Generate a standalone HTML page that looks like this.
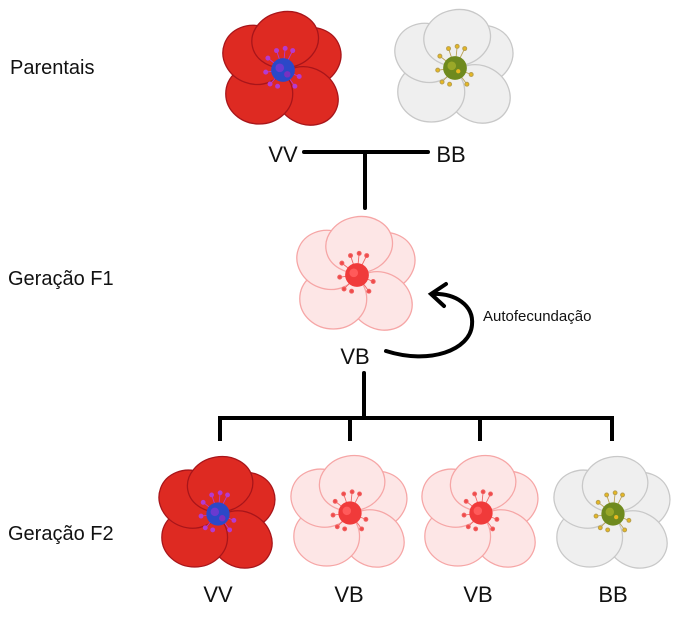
<!DOCTYPE html>
<html><head><meta charset="utf-8"><style>
html,body{margin:0;padding:0;background:#fff}
svg{display:block}
text{font-family:"Liberation Sans",sans-serif;fill:#111}
</style></head><body>
<svg width="685" height="617" viewBox="0 0 685 617" xmlns="http://www.w3.org/2000/svg">
<defs>
<g id="petals">
<ellipse cx="24" cy="-12" rx="30" ry="27" transform="rotate(-20 24 -12)"/>
<ellipse cx="22" cy="24" rx="30" ry="26" transform="rotate(30 22 24)"/>
<ellipse cx="-22" cy="22" rx="31" ry="28"/>
<ellipse cx="-26" cy="-14" rx="30" ry="27" transform="rotate(20 -26 -14)"/>
<ellipse cx="2" cy="-28" rx="31" ry="26" transform="rotate(-10 2 -28)"/>
</g>
<g id="stam">
<g stroke-width="0.8">
<line x1="0" y1="0" x2="-6" y2="-18"/><line x1="0" y1="0" x2="2" y2="-20"/><line x1="0" y1="0" x2="9" y2="-18"/><line x1="0" y1="0" x2="-14" y2="-11"/><line x1="0" y1="0" x2="-16" y2="2"/><line x1="0" y1="0" x2="-12" y2="13"/><line x1="0" y1="0" x2="15" y2="6"/><line x1="0" y1="0" x2="11" y2="15"/>
</g>
<circle cx="-6" cy="-18" r="1.8"/><circle cx="2" cy="-20" r="1.8"/><circle cx="9" cy="-18" r="1.8"/><circle cx="-14" cy="-11" r="1.8"/><circle cx="-16" cy="2" r="1.8"/><circle cx="-12" cy="13" r="1.8"/><circle cx="15" cy="6" r="1.8"/><circle cx="11" cy="15" r="1.8"/><circle cx="-5" cy="15" r="1.8"/>
</g>
<g id="red">
<use href="#petals" fill="#de2a22" stroke="#a8151a" stroke-width="1.2"/>
<g fill="#b43ad0" stroke="#b43ad0"><use href="#stam"/></g>
<circle r="11" fill="#2b48c8"/><circle cx="-3" cy="-2" r="4" fill="#6a3ad0"/><circle cx="4" cy="4" r="3" fill="#7a30c0"/>
</g>
<g id="pink">
<use href="#petals" fill="#fde6e6" stroke="#f6a6a6" stroke-width="1.2"/>
<g fill="#f04a4a" stroke="#f06060"><use href="#stam"/></g>
<circle r="11" fill="#f03a3a"/><circle cx="-3" cy="-2" r="4" fill="#ff5a5a"/>
</g>
<g id="white">
<use href="#petals" fill="#efefef" stroke="#c8c8c8" stroke-width="1.2"/>
<g fill="#e8b820" stroke="#b8a050"><use href="#stam"/></g>
<circle r="11" fill="#6f8a1e"/><circle cx="-3" cy="-2" r="4" fill="#9aa828"/><circle cx="3" cy="3" r="2" fill="#e8b820"/>
</g>
</defs>

<text x="10" y="74" font-size="20">Parentais</text>
<text x="8" y="285" font-size="20">Geração F1</text>
<text x="8" y="540" font-size="20">Geração F2</text>

<use href="#red" transform="translate(283,70) scale(1.08)"/>
<use href="#white" transform="translate(455,68) scale(1.08)"/>
<use href="#pink" transform="translate(357,275) scale(1.08)"/>
<use href="#red" transform="translate(218,514) scale(1.06)"/>
<use href="#pink" transform="translate(350,513) scale(1.06)"/>
<use href="#pink" transform="translate(481,513) scale(1.06)"/>
<use href="#white" transform="translate(613,514) scale(1.06)"/>

<text x="283" y="162" font-size="22" text-anchor="middle">VV</text>
<text x="451" y="162" font-size="22" text-anchor="middle">BB</text>
<text x="355" y="364" font-size="22" text-anchor="middle">VB</text>
<text x="218" y="602" font-size="22" text-anchor="middle">VV</text>
<text x="349" y="602" font-size="22" text-anchor="middle">VB</text>
<text x="478" y="602" font-size="22" text-anchor="middle">VB</text>
<text x="613" y="602" font-size="22" text-anchor="middle">BB</text>
<text x="483" y="321" font-size="15">Autofecundação</text>

<g stroke="#000" stroke-width="4" fill="none" stroke-linecap="round">
<line x1="304" y1="152" x2="428" y2="152"/>
<line x1="365" y1="152" x2="365" y2="208"/>
<line x1="364" y1="373" x2="364" y2="418"/>
<line x1="220" y1="418" x2="612" y2="418" stroke-linecap="square"/>
<line x1="220" y1="418" x2="220" y2="441" stroke-linecap="butt"/>
<line x1="350" y1="418" x2="350" y2="441" stroke-linecap="butt"/>
<line x1="480" y1="418" x2="480" y2="441" stroke-linecap="butt"/>
<line x1="612" y1="418" x2="612" y2="441" stroke-linecap="butt"/>
<path d="M386,351 C430,365 470,350 472,325 C474,305 455,293 432,294"/>
<path d="M446,284 L431,294 L444,306"/>
</g>
</svg>
</body></html>
